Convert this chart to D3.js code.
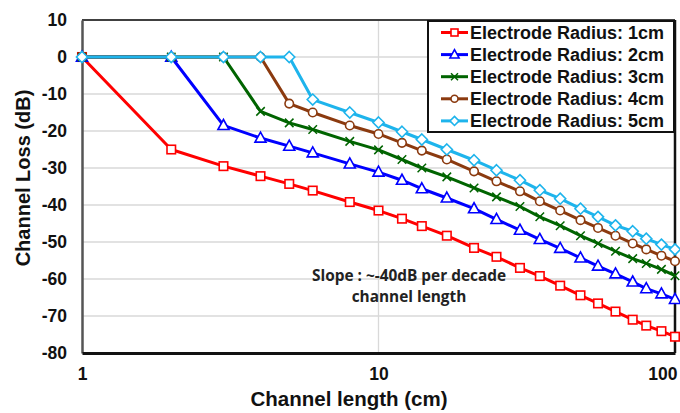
<!DOCTYPE html>
<html><head><meta charset="utf-8">
<script src="https://cdn.jsdelivr.net/npm/d3@7"></script>
<style>body{margin:0;background:#fff}svg{display:block}</style>
</head><body><svg id="c" width="680" height="413"></svg>
<script>
const lengths = [1,2,3,4,5,6,8,10,12,14,17,21,25,30,35,41,48,55,63,72,80,90,100];
const radius1 = [0,-25.0,-29.5,-32.2,-34.3,-36.1,-39.2,-41.5,-43.7,-45.7,-48.3,-51.6,-54.0,-57.0,-59.2,-61.8,-64.4,-66.6,-68.8,-71.0,-72.6,-74.1,-75.6];
const radius2 = [0,0,-18.5,-21.9,-24.1,-25.9,-28.9,-31.1,-33.3,-35.6,-38.1,-41.0,-43.9,-46.8,-49.3,-51.7,-54.3,-56.5,-58.6,-60.8,-62.6,-64.0,-65.5];
const radius3 = [0,0,0,-14.7,-17.8,-19.6,-22.8,-25.1,-27.7,-30.0,-32.4,-35.4,-37.8,-40.4,-43.2,-45.6,-48.3,-50.4,-52.5,-54.5,-55.8,-57.4,-59.1];
const radius4 = [0,0,0,0,-12.6,-15.0,-18.5,-20.8,-23.2,-25.3,-27.7,-30.9,-33.6,-36.3,-39.0,-41.5,-44.1,-46.2,-48.3,-50.4,-52.0,-53.7,-55.2];
const radius5 = [0,0,0,0,0,-11.5,-15.0,-17.7,-20.2,-22.3,-25.0,-27.9,-30.6,-33.3,-36.0,-38.3,-41.0,-43.2,-45.5,-47.1,-49.1,-50.7,-52.0];
const seriesNames = ["Electrode Radius: 1cm","Electrode Radius: 2cm","Electrode Radius: 3cm","Electrode Radius: 4cm","Electrode Radius: 5cm"];
const seriesColors = ["#ff0000","#0000ff","#006400","#8b3a0f","#1eb4ec"];
const seriesMarkers = ["square","triangle","cross","circle","diamond"];
const yTicks = [10,0,-10,-20,-30,-40,-50,-60,-70,-80];
const xTicks = [1,10,100];
const annotation = ["Slope : ~-40dB per decade","channel length"];

const allSeries = [radius1,radius2,radius3,radius4,radius5];
const svg = d3.select("#c");
const L=82,R=675,T=20,B=353;
const FONT = "Liberation Sans, Arial, sans-serif";
const x = d3.scaleLog().domain([1,100]).range([L,R]);
const y = d3.scaleLinear().domain([-80,10]).range([B,T]);

// grid
svg.append("g").selectAll("line").data(yTicks.filter(d=>d>-80&&d<10)).join("line")
  .attr("x1",L).attr("x2",R).attr("y1",d=>y(d)).attr("y2",d=>y(d))
  .attr("stroke","#d9d9d9").attr("stroke-width",1.3);
svg.append("line").attr("x1",x(10)).attr("x2",x(10)).attr("y1",T).attr("y2",B)
  .attr("stroke","#d9d9d9").attr("stroke-width",1.3);

// frame
svg.append("line").attr("x1",L).attr("x2",R).attr("y1",T).attr("y2",T).attr("stroke","#404040").attr("stroke-width",2);
svg.append("line").attr("x1",R).attr("x2",R).attr("y1",T).attr("y2",B).attr("stroke","#111").attr("stroke-width",2.5);

// axes
const yAxis = d3.axisLeft(y).tickValues(yTicks).tickSize(0).tickPadding(15).tickFormat(d=>String(d));
const gy = svg.append("g").attr("transform",`translate(${L},0)`).call(yAxis);
gy.select(".domain").attr("stroke","#555").attr("stroke-width",2.5);
gy.selectAll("text").attr("font-family",FONT).attr("font-weight","bold").attr("font-size",17.5).attr("fill","#111");

const xAxis = d3.axisBottom(x).tickValues(xTicks).tickSize(0).tickPadding(15).tickFormat(d=>String(d));
const gx = svg.append("g").attr("transform",`translate(0,${B})`).call(xAxis);
gx.select(".domain").attr("stroke","#111").attr("stroke-width",3);
gx.selectAll("text").attr("font-family",FONT).attr("font-weight","bold").attr("font-size",17.5).attr("fill","#111");
gx.selectAll(".tick").filter(d=>d===100).select("text").attr("text-anchor","end").attr("dx",2);

// titles
svg.append("text").attr("x",349).attr("y",406).attr("text-anchor","middle")
  .attr("font-family",FONT).attr("font-weight","bold").attr("font-size",20.5).attr("fill","#111")
  .text("Channel length (cm)");
svg.append("text").attr("transform","translate(30,178) rotate(-90)").attr("text-anchor","middle")
  .attr("font-family",FONT).attr("font-weight","bold").attr("font-size",20).attr("fill","#111")
  .text("Channel Loss (dB)");

// annotation
svg.append("g").selectAll("text").data(annotation).join("text")
  .attr("x",409).attr("y",(d,i)=>281+i*21).attr("text-anchor","middle")
  .attr("font-family","Open Sans, sans-serif").attr("font-weight",700).attr("font-size",15.4).attr("fill","#222")
  .text(d=>d);

function drawMarker(g, type, color, s){
  if(type==="square") g.append("rect").attr("x",-s/2).attr("y",-s/2).attr("width",s).attr("height",s).attr("fill","#fff").attr("stroke",color).attr("stroke-width",1.6);
  else if(type==="triangle") g.append("path").attr("d",`M0,${-s*0.7}L${s*0.65},${s*0.48}L${-s*0.65},${s*0.48}Z`).attr("fill","#fff").attr("stroke",color).attr("stroke-width",1.6);
  else if(type==="cross") g.append("path").attr("d",`M${-s/2},${-s/2}L${s/2},${s/2}M${-s/2},${s/2}L${s/2},${-s/2}`).attr("stroke",color).attr("stroke-width",1.5);
  else if(type==="circle") g.append("circle").attr("r",s/2).attr("fill","#fff").attr("stroke",color).attr("stroke-width",1.6);
  else if(type==="diamond") g.append("path").attr("d",`M0,${-s*0.65}L${s*0.65},0L0,${s*0.65}L${-s*0.65},0Z`).attr("fill","#fff").attr("stroke",color).attr("stroke-width",1.6);
}

const line = d3.line().x(d=>x(d[0])).y(d=>y(d[1]));
allSeries.forEach((vals,i)=>{
  const pts = lengths.map((l,j)=>[l,vals[j]]);
  const g = svg.append("g");
  g.append("path").attr("d",line(pts)).attr("fill","none").attr("stroke",seriesColors[i]).attr("stroke-width",3).attr("stroke-linejoin","round");
  g.selectAll("g").data(pts).join("g").attr("transform",d=>`translate(${x(d[0])},${y(d[1])})`)
    .each(function(){ drawMarker(d3.select(this), seriesMarkers[i], seriesColors[i], 8.5); });
});

// legend
const lg = svg.append("g");
lg.append("rect").attr("x",428).attr("y",21).attr("width",246).attr("height",111).attr("fill","#fff").attr("stroke","#111").attr("stroke-width",2);
seriesNames.forEach((n,i)=>{
  const yy = 32.5 + i*22.1;
  lg.append("line").attr("x1",441).attr("x2",468).attr("y1",yy).attr("y2",yy).attr("stroke",seriesColors[i]).attr("stroke-width",3);
  const mg = lg.append("g").attr("transform",`translate(454.5,${yy})`);
  drawMarker(mg, seriesMarkers[i], seriesColors[i], 7);
  lg.append("text").attr("x",470).attr("y",yy+6.5).attr("font-family",FONT).attr("font-weight","bold").attr("font-size",18).attr("fill","#111").text(n);
});
</script></body></html>
